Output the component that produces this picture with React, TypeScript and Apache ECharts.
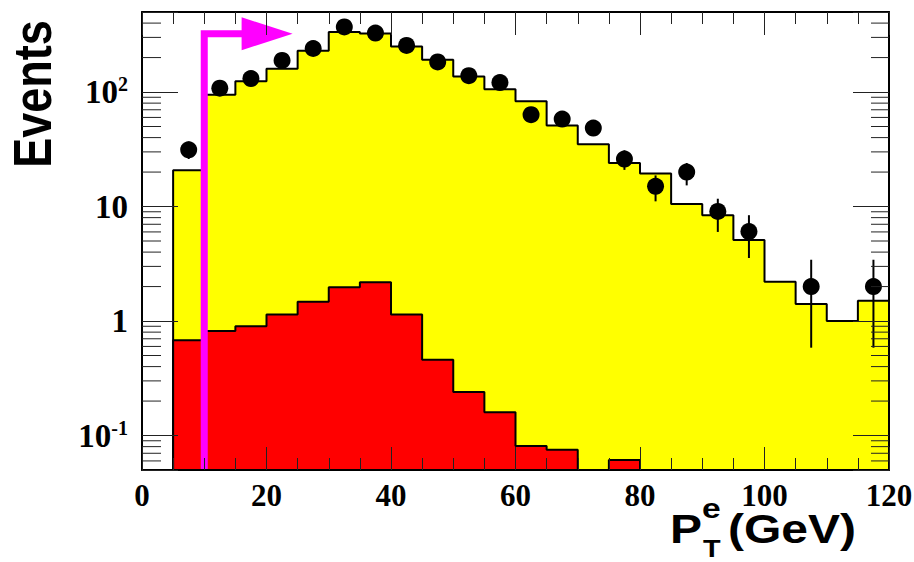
import React, { useEffect, useRef } from "react";
import * as echarts from "echarts";

// Histogram bin edges (GeV)
const binEdges = [5, 10, 15, 20, 25, 30, 35, 40, 45, 50, 55, 60, 65, 70, 75, 80, 85, 90, 95, 100, 105, 110, 115, 120];
// Total expectation (yellow)
const totalMC = [20.7, 94.6, 124, 160, 229, 335, 325, 250, 191, 137, 106, 83, 51, 35, 24, 19.4, 10.5, 8.4, 5.1, 2.2, 1.41, 1.0, 1.5];
// Background (red)
const background = [0.68, 0.82, 0.9, 1.14, 1.47, 1.97, 2.18, 1.14, 0.46, 0.24, 0.16, 0.081, 0.075, 0, 0.061, 0, 0, 0, 0, 0, 0, 0, 0];
// Data points
const dataCenters = [7.5, 12.5, 17.5, 22.5, 27.5, 32.5, 37.5, 42.5, 47.5, 52.5, 57.5, 62.5, 67.5, 72.5, 77.5, 82.5, 87.5, 92.5, 97.5, 102.5, 107.5, 112.5, 117.5];
const dataValues = [31.3, 108, 131, 189, 240, 370, 327, 255, 183, 139, 121, 63.4, 58, 48.5, 26, 15, 20, 9.06, 6.05, null, 2.0, null, 2.0];
const errLow = [26, 98, 120, 175, 225, 351, 309, 239, 170, 127, 110, 55.5, 50.5, 41.5, 20.9, 11.1, 15.3, 6.0, 3.55, null, 0.585, null, 0.585];
const errHigh = [37, 118, 142, 203, 256, 389, 345, 271, 196, 151, 132, 71.5, 65.5, 55.5, 31, 18.7, 24, 11.7, 8.4, null, 3.43, null, 3.43];

// Axes
const xMin = 0;
const xMax = 120;
const xInterval = 20;
const yMin = 0.05;
const yMax = 500;
const yTickValues = [0.1, 1, 10, 100];
const yTickBase = ["10", "1", "10", "10"];
const yTickExp = ["-1", "", "", "2"];
const yMinorValues = [0.06, 0.07, 0.08, 0.09, 0.2, 0.3, 0.4, 0.5, 0.6, 0.7, 0.8, 0.9, 2, 3, 4, 5, 6, 7, 8, 9, 20, 30, 40, 50, 60, 70, 80, 90, 200, 300, 400];

// Cut arrow
const cutValue = 10;
const arrowLevel = 323;
const arrowHeadStart = 16;

const FLOOR = 0.001;

function stepData(vals: number[]) {
  const d: number[][] = [[binEdges[0], FLOOR]];
  vals.forEach((v, i) => d.push([binEdges[i], v > 0 ? v : FLOOR]));
  const last = vals[vals.length - 1];
  d.push([binEdges[vals.length], last > 0 ? last : FLOOR]);
  return d;
}

export default function App() {
  const ref = useRef<HTMLDivElement>(null);
  useEffect(() => {
    if (!ref.current) return;
    const chart = echarts.init(ref.current, null, { renderer: "svg" });

    const serif = "'Liberation Serif', 'Times New Roman', serif";
    const sans = "'Liberation Sans', Arial, Helvetica, sans-serif";

    const points = dataCenters
      .map((x, i) => [x, dataValues[i]])
      .filter((p) => p[1] != null);
    const errs = dataCenters
      .map((x, i) => [x, errLow[i], errHigh[i]])
      .filter((p) => p[1] != null);

    const xAxisCommon = {
      type: "value",
      min: xMin,
      max: xMax,
      interval: xInterval,
      z: 10,
      splitLine: { show: false },
      axisLine: { show: true, onZero: false, lineStyle: { color: "#000", width: 2 } },
      axisTick: { show: true, inside: true, length: 23, lineStyle: { color: "#222", width: 1 } },
      minorTick: { show: true, splitNumber: 4, length: 12, lineStyle: { color: "#222", width: 1 } },
      minorSplitLine: { show: false },
    };
    const yAxisCommon = {
      type: "log",
      logBase: 10,
      min: yMin,
      max: yMax,
      z: 10,
      splitLine: { show: false },
      axisLine: { show: true, onZero: false, lineStyle: { color: "#000", width: 2 } },
      axisTick: { show: true, inside: true, length: 36, lineStyle: { color: "#222", width: 1 } },
      minorTick: { show: false },
    };

    const option: any = {
      animation: false,
      backgroundColor: "#fff",
      grid: { left: 142, right: 25, top: 12, bottom: 92, containLabel: false, outerBoundsMode: "none" },
      xAxis: [
        {
          ...xAxisCommon,
          position: "bottom",
          axisLabel: {
            show: true,
            margin: 10,
            fontFamily: serif,
            fontWeight: "bold",
            fontSize: 31,
            color: "#000",
          },
        },
        { ...xAxisCommon, position: "top", axisLabel: { show: false } },
      ],
      yAxis: [
        {
          ...yAxisCommon,
          position: "left",
          axisLabel: {
            show: true,
            margin: 14,
            formatter: (v: number) => {
              const i = yTickValues.findIndex((t) => Math.abs(Math.log10(v) - Math.log10(t)) < 1e-6);
              if (i < 0) return "";
              return yTickExp[i] ? `{b|${yTickBase[i]}}{s|${yTickExp[i]}}` : `{b|${yTickBase[i]}}`;
            },
            rich: {
              b: { fontFamily: serif, fontWeight: "bold", fontSize: 33, color: "#000", lineHeight: 36 },
              s: { fontFamily: serif, fontWeight: "bold", fontSize: 20, color: "#000", verticalAlign: "top", lineHeight: 20 },
            },
          },
        },
        { ...yAxisCommon, position: "right", axisLabel: { show: false } },
      ],
      graphic: [
        {
          type: "text",
          x: 33,
          y: 94,
          rotation: Math.PI / 2,
          scaleY: 1.2,
          style: { text: "Events", x: 0, y: 0, align: "center", verticalAlign: "middle", fontFamily: sans, fontWeight: "bold", fontSize: 45, fill: "#000" },
        },
        {
          type: "text",
          x: 670,
          y: 529,
          scaleX: 1.2,
          style: { text: "P", x: 0, y: 0, align: "left", verticalAlign: "middle", fontFamily: sans, fontWeight: "bold", fontSize: 40, fill: "#000" },
        },
        {
          type: "text",
          x: 702,
          y: 508,
          scaleX: 1.2,
          style: { text: "e", x: 0, y: 0, align: "left", verticalAlign: "middle", fontFamily: sans, fontWeight: "bold", fontSize: 28, fill: "#000" },
        },
        {
          type: "text",
          x: 703,
          y: 549,
          scaleX: 1.2,
          style: { text: "T", x: 0, y: 0, align: "left", verticalAlign: "middle", fontFamily: sans, fontWeight: "bold", fontSize: 24, lineHeight: 22, fill: "#000" },
        },
        {
          type: "text",
          x: 728,
          y: 529,
          scaleX: 1.2,
          style: { text: "(GeV)", x: 0, y: 0, align: "left", verticalAlign: "middle", fontFamily: sans, fontWeight: "bold", fontSize: 40, fill: "#000" },
        },
      ],
      series: [
        {
          type: "line",
          name: "total",
          step: "end",
          data: stepData(totalMC),
          symbol: "none",
          showSymbol: false,
          clip: true,
          z: 2,
          lineStyle: { color: "#000", width: 2 },
          areaStyle: { color: "#ffff00", opacity: 1, origin: "start" },
        },
        {
          type: "line",
          name: "background",
          step: "end",
          data: stepData(background),
          symbol: "none",
          showSymbol: false,
          clip: true,
          z: 3,
          lineStyle: { color: "#000", width: 2 },
          areaStyle: { color: "#ff0000", opacity: 1, origin: "start" },
        },
        {
          type: "custom",
          name: "cut",
          z: 4,
          clip: false,
          data: [[cutValue, arrowLevel]],
          encode: { x: 0, y: 1 },
          renderItem: (params: any, api: any) => {
            const base = api.coord([api.value(0), yMin]);
            const corner = api.coord([api.value(0), api.value(1)]);
            const head = api.coord([arrowHeadStart, api.value(1)]);
            return {
              type: "group",
              children: [
                {
                  type: "polyline",
                  shape: { points: [[base[0], base[1]], [corner[0], corner[1]], [head[0] + 2, head[1]]] },
                  style: { stroke: "#ff00ff", lineWidth: 7, fill: "none", lineJoin: "miter", lineCap: "butt" },
                },
                {
                  type: "polygon",
                  shape: { points: [[head[0], head[1] - 16.5], [head[0], head[1] + 16.5], [head[0] + 51, head[1]]] },
                  style: { fill: "#ff00ff" },
                },
              ],
            };
          },
        },
        {
          type: "custom",
          name: "errors",
          z: 5,
          clip: false,
          data: errs,
          encode: { x: 0, y: [1, 2] },
          renderItem: (params: any, api: any) => {
            const lo = api.coord([api.value(0), api.value(1)]);
            const hi = api.coord([api.value(0), api.value(2)]);
            return {
              type: "line",
              shape: { x1: lo[0], y1: lo[1], x2: hi[0], y2: hi[1] },
              style: { stroke: "#000", lineWidth: 2 },
            };
          },
        },
        {
          type: "scatter",
          name: "data",
          z: 6,
          data: points,
          symbol: "circle",
          symbolSize: 17,
          itemStyle: { color: "#000", opacity: 1 },
        },
        {
          type: "custom",
          name: "yminor",
          z: 11,
          clip: false,
          data: yMinorValues.map((v) => [xMin, v]),
          encode: { x: 0, y: 1 },
          renderItem: (params: any, api: any) => {
            const l = api.coord([xMin, api.value(1)]);
            const r = api.coord([xMax, api.value(1)]);
            return {
              type: "group",
              children: [
                { type: "line", shape: { x1: l[0], y1: l[1], x2: l[0] + 19, y2: l[1] }, style: { stroke: "#222", lineWidth: 1 } },
                { type: "line", shape: { x1: r[0], y1: r[1], x2: r[0] - 18, y2: r[1] }, style: { stroke: "#222", lineWidth: 1 } },
              ],
            };
          },
        },
      ],
    };
    chart.setOption(option);
    return () => chart.dispose();
  }, []);
  return <div ref={ref} style={{ width: 914, height: 562, position: "absolute", left: 0, top: 0 }} />;
}
